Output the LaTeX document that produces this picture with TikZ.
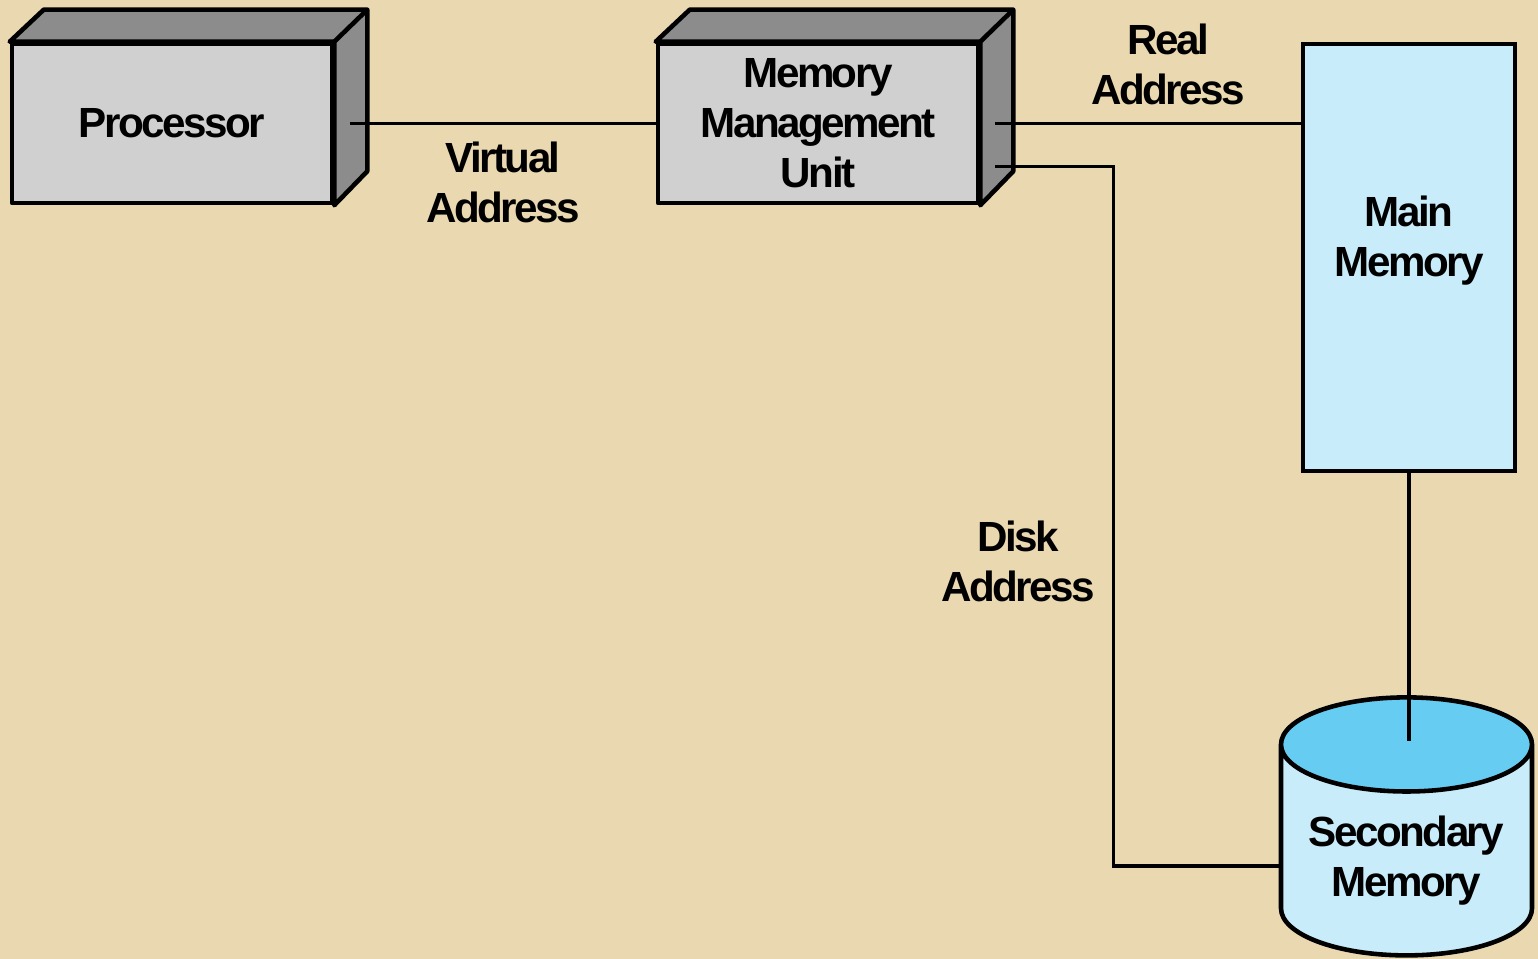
\documentclass[tikz,border=0pt]{standalone}
\usepackage{fontspec}
\setmainfont{Liberation Sans}[LetterSpace=-6]
\usetikzlibrary{shapes.geometric,calc,positioning}

\definecolor{paper}{RGB}{234,216,176}
\definecolor{faceLight}{RGB}{208,208,208}
\definecolor{faceDark}{RGB}{140,140,140}
\definecolor{memBlue}{RGB}{200,236,249}
\definecolor{diskTop}{RGB}{102,204,242}

\tikzset{
  boxfont/.style = {font=\bfseries\fontsize{12}{14.2}\selectfont},
  UnitStyle/.style = {boxfont, draw, line width=1.3pt, fill=faceLight,
                      minimum width=3.2cm, minimum height=1.59cm,
                      align=center, line join=round},
  MemStyle/.style = {draw, line width=1.3pt, fill=memBlue,
                     minimum width=2.12cm, minimum height=4.27cm},
  DiskStyle/.style = {boxfont, draw, line width=1.3pt, cylinder,
                      shape border rotate=90, aspect=0.43,
                      minimum width=2.51cm, minimum height=2.58cm,
                      cylinder uses custom fill, cylinder body fill=memBlue,
                      cylinder end fill=diskTop, align=center},
  LinkStyle/.style = {line width=1pt},
  LabelStyle/.style = {boxfont, align=center}
}

% top and side of a unit box
\newcommand{\unitdepth}[1]{%
  \filldraw[fill=faceDark, line width=1.3pt, line join=round]
    (#1.north west) -- ++(0.34,0.32) -- ($(#1.north east)+(0.33,0.32)$)
    -- ($(#1.south east)+(0.33,0.34)$) -- (#1.south east) -- (#1.north east) -- cycle;
  \draw[line width=1.3pt] (#1.north east) -- ++(0.33,0.32);
}

\begin{document}
\begin{tikzpicture}
	\fill[paper] (0,0) rectangle (15.38,9.59);
	\useasboundingbox (0,0) rectangle (15.38,9.59);

	\node[UnitStyle] (proc) at (1.72,8.355) {Processor};
	\node[UnitStyle] (mmu) at (8.18,8.355) {Memory\\Management\\Unit};
	\unitdepth{proc}
	\unitdepth{mmu}

	\node[MemStyle, label={[boxfont, align=center, yshift=0.17cm]center:Main\\Memory}] (mainmem) at (14.09,7.015) {};
	\node[DiskStyle] (disk) at (14.065,0.98) {Secondary\\Memory};

	\coordinate (procR) at ($(proc.east)+(0.16,0)$);
	\coordinate (mmuR) at ($(mmu.east)+(0.15,0)$);
	\coordinate (mmuD) at ($(mmu.east)+(0.15,-0.43)$);
	\coordinate (diskin) at ($(disk.west)+(0,-0.05)$);
	\coordinate (bend) at ($(mmuD)+(1.18,0)$);
	\coordinate (disktop) at ($(disk.top)+(0,-0.46)$);

	\draw[LinkStyle] (procR) -- node[LabelStyle, below=0.05cm] (virt) {Virtual\\Address} (mmu.west);
	\draw[LinkStyle] (mmuR) -- node[LabelStyle, above=0.05cm, xshift=0.2cm] (real) {Real\\Address} (mmuR -| mainmem.west);
	\draw[LinkStyle] (mmuD) -- (bend)
	  -- node[LabelStyle, pos=0.565, left=0.05cm] (diskaddr) {Disk\\Address} (bend |- diskin) -- (diskin);
	\draw[LinkStyle] (mainmem.south) -- (mainmem.south |- disktop);
\end{tikzpicture}
\end{document}
